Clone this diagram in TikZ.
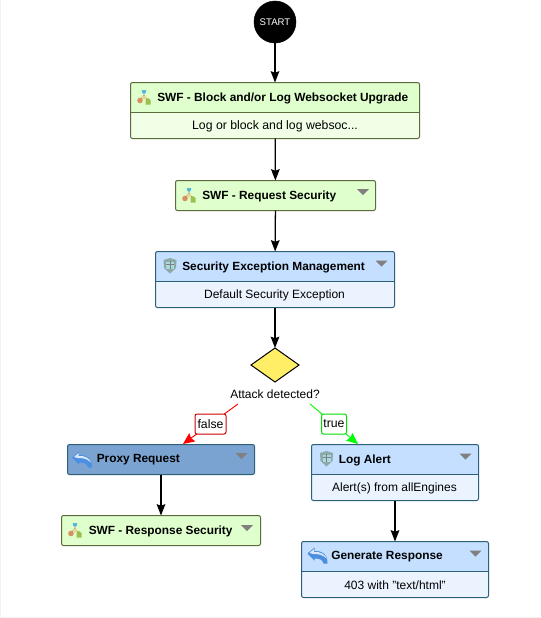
\documentclass[tikz,border=0pt]{standalone}
\usepackage{fontspec}
\setmainfont{Liberation Sans}
\usetikzlibrary{arrows.meta,shapes.geometric}
\def\px{0.75pt}
\definecolor{greenhead}{HTML}{DFFFCC}
\definecolor{greenbody}{HTML}{F0FFE6}
\definecolor{greenline}{HTML}{5C6B3C}
\definecolor{bluehead}{HTML}{C4DFFF}
\definecolor{bluebody}{HTML}{EBF3FF}
\definecolor{blueline}{HTML}{2E5F78}
\definecolor{proxyfill}{HTML}{7BA3D2}
\definecolor{diamondfill}{HTML}{FFEE66}
\definecolor{edgered}{HTML}{FF0000}
\definecolor{edgegreen}{HTML}{00FF00}
\definecolor{labelred}{HTML}{CC0000}
\definecolor{labelgreen}{HTML}{00DD00}
\definecolor{iconcyan}{HTML}{55B8D8}
\definecolor{iconorange}{HTML}{D89060}
\definecolor{iconyellow}{HTML}{E8D890}
\definecolor{icongreen}{HTML}{9CBF50}
\definecolor{shieldout}{HTML}{8FA8A8}
\definecolor{shieldin}{HTML}{A8D8E0}
\definecolor{returnblue}{HTML}{4A8FE0}
\definecolor{returnpale}{HTML}{DCE8F8}
\tikzset{
  x=\px, y=-\px,
  greencard/.style 2 args={draw=greenline, line width=\px, rounded corners=1.5pt, inner sep=0pt, outer sep=0pt,
     fill=greenbody, minimum width=#1*\px, minimum height=#2*\px,
     path picture={\fill[greenhead] (path picture bounding box.north west) rectangle ([yshift=-29.5*\px]path picture bounding box.north east);
       \draw[greenline,line width=\px] ([yshift=-29.5*\px]path picture bounding box.north west) -- ([yshift=-29.5*\px]path picture bounding box.north east);}},
  bluecard/.style 2 args={draw=blueline, line width=\px, rounded corners=1.5pt, inner sep=0pt, outer sep=0pt,
     fill=bluebody, minimum width=#1*\px, minimum height=#2*\px,
     path picture={\fill[bluehead] (path picture bounding box.north west) rectangle ([yshift=-30*\px]path picture bounding box.north east);
       \draw[blueline,line width=\px] ([yshift=-30*\px]path picture bounding box.north west) -- ([yshift=-30*\px]path picture bounding box.north east);}},
  proxycard/.style 2 args={draw=blueline, line width=\px, rounded corners=1.5pt, inner sep=0pt, outer sep=0pt,
     fill=proxyfill, minimum width=#1*\px, minimum height=#2*\px},
  titletext/.style={font=\fontsize{8.9pt}{10pt}\selectfont\bfseries, anchor=west, inner sep=0pt, text=black},
  bodytext/.style={font=\fontsize{9pt}{10pt}\selectfont, inner sep=0pt, text=black},
  flowedge/.style={draw=black, line width=0.95pt, -{Stealth[length=8.5pt,width=6.5pt,inset=1.2pt]}},
  falseedge/.style={draw=edgered, line width=0.7pt, -{Stealth[length=8.5pt,width=7.5pt,inset=1pt]}},
  trueedge/.style={draw=edgegreen, line width=0.7pt, -{Stealth[length=8.5pt,width=7.5pt,inset=1pt]}},
  edgelabel/.style={draw=#1, fill=white, line width=\px, rounded corners=1.5pt, text=black, inner sep=0pt,
     font=\fontsize{9.2pt}{10pt}\selectfont, minimum height=20*\px},
  startnode/.style={circle, fill=black, draw=black, minimum size=42*\px, inner sep=0pt, text=white,
     font=\fontsize{7.2pt}{8pt}\selectfont},
  decision/.style={diamond, draw=black, line width=\px, fill=diamondfill, minimum width=48*\px, minimum height=34*\px, inner sep=0pt, outer sep=0pt},
  menutri/.pic={\fill[gray] (-6,-3) -- (6,-3) -- (0,3) -- cycle;},
  swficon/.pic={
    \draw[gray,line width=0.35pt] (0,-3) -- (-3.5,2) (0,-3) -- (3.5,3);
    \fill[iconcyan] (-2.2,-7.5) -- (2.2,-7.5) -- (1.8,-5) -- (0,-3.5) -- (-1.8,-5) -- cycle;
    \fill[iconorange] (-4,3) circle[radius=2.8];
    \fill[iconyellow] (0,0) circle[radius=2.2];
    \fill[icongreen] (1.5,2.5) -- (4,0.5) -- (6.5,2.5) -- (6.5,7) -- (1.5,7) -- cycle;
  },
  shieldicon/.pic={
    \fill[shieldout] (-6.5,-6) -- (0,-8) -- (6.5,-6) -- (6,2) -- (0,7.5) -- (-6,2) -- cycle;
    \fill[shieldin] (-4,-4.5) rectangle (4,2.5);
    \draw[gray,line width=0.35pt] (0,-5) -- (0,3) (-4,-1.5) -- (4,-1.5);
  },
  returnicon/.pic={
    \fill[returnblue] (-10,-2) -- (-3,-8) -- (-3,-4.5) .. controls (4,-5) and (10,-2) .. (10,8) -- (6,8) .. controls (5,4) and (2,3) .. (-3,3) -- (-3,5) -- cycle;
    \fill[returnpale] (-8,-2.5) -- (-3.5,-6.5) -- (-3.5,-3.5) .. controls (3,-4) and (8,-1) .. (9,3) .. controls (5,-1) and (1,-1.5) .. (-4,-1.5) -- cycle;
  }
}
\begin{document}
\begin{tikzpicture}
\useasboundingbox (0,0) rectangle (540,618);
\fill[white] (0,0) rectangle (540,618);
\draw[black!5,line width=\px] (0.5,0) -- (0.5,617.5) -- (540,617.5);

\node[startnode] (start) at (275,22) {START};

\node[greencard={289}{56}] (waf1) at (275,110.5) {};
\pic at (144,97.5) {swficon};
\node[titletext] (waf1t) at (157,98) {SWF - Block and/or Log Websocket Upgrade};
\node[bodytext, font=\fontsize{9.2pt}{10pt}\selectfont] (waf1b) at (275,126) {Log or block and log websoc...};

\node[greencard={200}{30}] (waf2) at (275.5,195.5) {};
\pic at (189,195.5) {swficon};
\node[titletext] (waf2t) at (202,196) {SWF - Request Security};
\pic at (363,192) {menutri};

\node[bluecard={239}{56}] (sec) at (275,279.5) {};
\pic at (170,266) {shieldicon};
\node[titletext] (sect) at (182,267) {Security Exception Management};
\pic at (381.5,263.5) {menutri};
\node[bodytext] (secb) at (274.5,295) {Default Security Exception};

\node[decision] (attack) at (275,365) {};
\node[bodytext] (attackt) at (275,394) {Attack detected?};
\coordinate (falsefrom) at (238,404);
\coordinate (truefrom) at (310,404);

\node[proxycard={187}{30}] (proxy) at (161,459.5) {};
\pic at (82,459.5) {returnicon};
\node[titletext] (proxyt) at (96.5,460) {Proxy Request};
\pic at (241.5,456) {menutri};
\coordinate (falseto) at (183,444);

\node[greencard={199}{30}] (resp) at (161,530.5) {};
\pic at (75,530.5) {swficon};
\node[titletext] (respt) at (88.5,531) {SWF - Response Security};
\pic at (247,528) {menutri};

\node[bluecard={167}{56}] (log) at (395,472.5) {};
\pic at (326.5,459) {shieldicon};
\node[titletext] (logt) at (338.5,460) {Log Alert};
\pic at (465.5,456.5) {menutri};
\node[bodytext] (logb) at (394.5,488) {Alert(s) from allEngines};
\coordinate (trueto) at (358,444);

\node[bluecard={187}{56}] (gen) at (395,569.5) {};
\pic at (317.5,555.5) {returnicon};
\node[titletext] (gent) at (331,557) {Generate Response};
\pic at (475.5,553.5) {menutri};
\node[bodytext] (genb) at (395,585) {403 with "text/html"};

\draw[flowedge] (start) -- (waf1);
\draw[flowedge] (waf1) -- (waf2);
\draw[flowedge] (waf2) -- (sec);
\draw[flowedge] (sec) -- (attack);
\draw[flowedge] (proxy) -- (resp);
\draw[flowedge] (log) -- (gen);
\draw[falseedge] (falsefrom) -- node[edgelabel=labelred, minimum width=31*\px] (falselabel) {false} (falseto);
\draw[trueedge] (truefrom) -- node[edgelabel=labelgreen, minimum width=25*\px] (truelabel) {true} (trueto);
\end{tikzpicture}
\end{document}
